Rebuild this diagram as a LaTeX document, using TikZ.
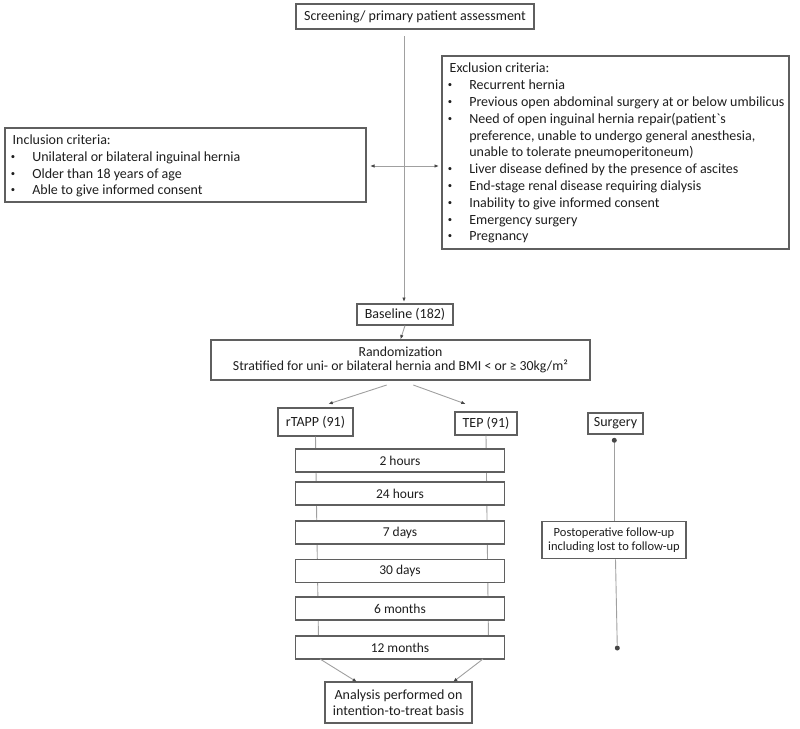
\documentclass[tikz,border=0pt]{standalone}
\usepackage{fontspec}
\setmainfont{Carlito}
\usetikzlibrary{arrows.meta}
\definecolor{boxc}{RGB}{95,95,95}
\definecolor{linec}{RGB}{160,160,160}
\definecolor{tipc}{RGB}{70,70,70}
\definecolor{txtc}{RGB}{30,30,30}
\newcommand{\bul}{\makebox[22.6pt][l]{\hspace{1.2pt}\raisebox{0.14em}{\scalebox{0.62}{\textbullet}}}}
\begin{document}
\begin{tikzpicture}[x=1pt,y=-1pt,
  box/.style={draw=boxc, line width=1.1pt, fill=white, inner sep=0pt, text=txtc,
    font=\fontsize{14}{17}\selectfont, align=center},
  crit/.style={inner sep=0pt, text=txtc, font=\fontsize{14}{16.8}\selectfont},
  conn/.style={draw=linec, line width=0.9pt},
  arr/.style={conn, -{Latex[length=4.5pt,width=3.5pt,color=tipc]}},
  darr/.style={conn, {Latex[length=4.5pt,width=3.5pt,color=tipc]}-{Latex[length=4.5pt,width=3.5pt,color=tipc]}},
  dotc/.style={circle, fill=tipc, inner sep=0pt, minimum size=5pt},
  tbox/.style={box, minimum width=209pt, minimum height=23pt, font=\fontsize{13.5}{16}\selectfont},
]
\useasboundingbox (0,0) rectangle (800,728);

% top
\node[box, minimum width=238pt, minimum height=25pt] (screen) at (415,16.5) {Screening/ primary patient assessment};
\node[box, minimum width=361pt, minimum height=74pt] (incl) at (185.5,165) {};
\node[box, minimum width=347pt, minimum height=193pt] (excl) at (615.5,152.5) {};

\node[crit, anchor=base west] (incltext) at (9.5,144.5) {%
\begin{tabular}[t]{@{}l@{}l@{}}
\multicolumn{2}{@{}l@{}}{\hspace{3pt}Inclusion criteria:}\\
\bul & Unilateral or bilateral inguinal hernia\\
\bul & Older than 18 years of age\\
\bul & Able to give informed consent
\end{tabular}};

\node[crit, anchor=base west] (excltext) at (446.5,72.8) {%
\begin{tabular}[t]{@{}l@{}l@{}}
\multicolumn{2}{@{}l@{}}{\hspace{3pt}Exclusion criteria:}\\
\bul & Recurrent hernia\\
\bul & Previous open abdominal surgery at or below umbilicus\\
\bul & Need of open inguinal hernia repair(patient\textasciigrave s\\
 & preference, unable to undergo general anesthesia,\\
 & unable to tolerate pneumoperitoneum)\\
\bul & Liver disease defined by the presence of ascites\\
\bul & End-stage renal disease requiring dialysis\\
\bul & Inability to give informed consent\\
\bul & Emergency surgery\\
\bul & Pregnancy
\end{tabular}};

% middle
\node[box, minimum width=96pt, minimum height=21pt] (base) at (405,314.5) {Baseline (182)};
\node[box, minimum width=379pt, minimum height=40pt, font=\fontsize{13.8}{14}\selectfont] (rand) at (400.5,360) {Randomization\\Stratified for uni- or bilateral hernia and BMI < or ≥ 30kg/m²};
\node[box, minimum width=75pt, minimum height=28pt] (rtapp) at (315.5,422) {rTAPP (91)};
\node[box, minimum width=62pt, minimum height=23pt] (tep) at (486,423.5) {TEP (91)};

% coordinates for connectors
\coordinate (vtop) at (404,36);
\coordinate (dl) at (370,166);
\coordinate (dr) at (439,166);
\coordinate (vbot) at (404,302);
\coordinate (rl0) at (386.7,385);
\coordinate (rl1) at (328.3,404);
\coordinate (rr0) at (413.3,385);
\coordinate (rr1) at (465.7,404);

\draw[arr] (vtop) -- (vbot);
\draw[darr] (dl) -- (dr);
\draw[arr] (base.south) -- (rand.north);
\draw[arr] (rl0) -- (rl1);
\draw[arr] (rr0) -- (rr1);

% timeline vertical lines (behind boxes)
\coordinate (lbot) at (318.5,640);
\coordinate (rbot) at (488.5,640);
\draw[conn] (rtapp.south) -- (lbot);
\draw[conn] (tep.south) -- (rbot);

\node[tbox] (h2) at (400,460.5) {2 hours};
\node[tbox] (h24) at (400,493.5) {24 hours};
\node[tbox] (d7) at (400,532.5) {7 days};
\node[tbox] (d30) at (400,571) {30 days};
\node[tbox] (m6) at (400,608.5) {6 months};
\node[tbox] (m12) at (400,647.5) {12 months};

\node[box, minimum width=147pt, minimum height=41pt, font=\fontsize{14}{15.7}\selectfont] (anal) at (398.5,702.5) {Analysis performed on\\intention-to-treat basis};

\coordinate (al0) at (320,659);
\coordinate (al1) at (357,682);
\coordinate (ar0) at (483,659);
\coordinate (ar1) at (453,682);
\draw[arr] (al0) -- (al1);
\draw[arr] (ar0) -- (ar1);

% right side
\node[box, minimum width=55pt, minimum height=21pt] (surg) at (615.5,423.5) {Surgery};
\node[box, minimum width=144pt, minimum height=37pt, font=\fontsize{12.5}{14.7}\selectfont] (postop) at (614,540.3) {Postoperative follow-up\\including lost to follow-up};
\node[dotc] (dot1) at (614.3,440.3) {};
\node[dotc] (dot2) at (617.3,648) {};
\draw[conn] (dot1) -- (dot1 |- postop.north);
\draw[conn] ([xshift=1.5pt]postop.south) -- (dot2);
\end{tikzpicture}
\end{document}
